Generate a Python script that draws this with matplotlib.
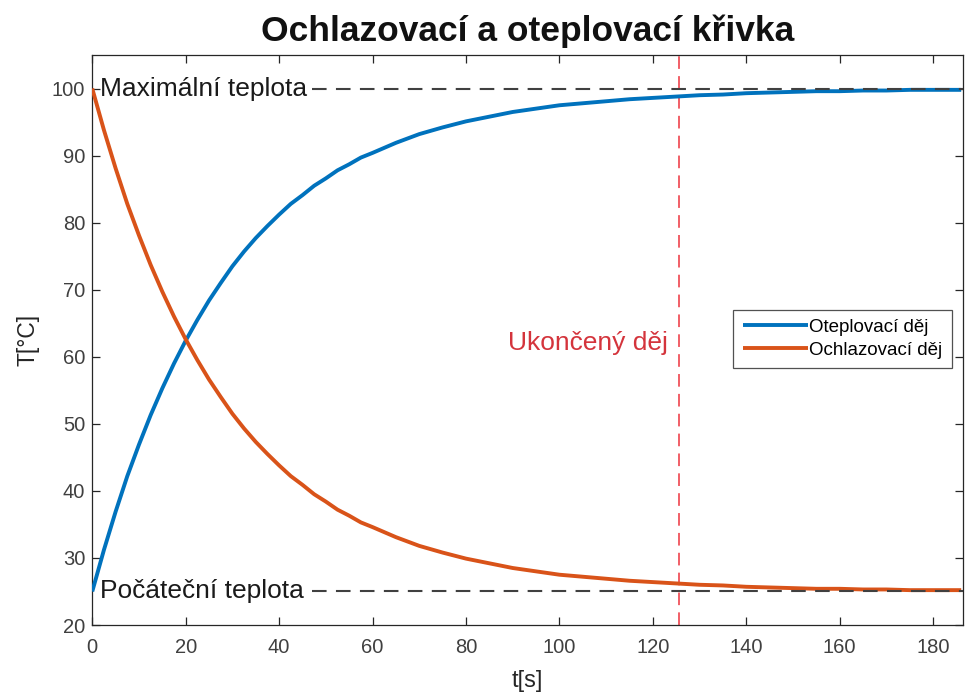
import numpy as np
import matplotlib.pyplot as plt

plt.rcParams['font.family'] = ['Liberation Sans', 'DejaVu Sans']

# time [s] and temperatures [degC]
t = [0, 2.5, 5, 7.5, 10, 12.5, 15, 17.5, 20, 22.5, 25, 27.5, 30, 32.5, 35,
     37.5, 40, 42.5, 45, 47.5, 50, 52.5, 55, 57.5, 60, 65, 70, 75, 80, 85,
     90, 95, 100, 105, 110, 115, 120, 125, 130, 135, 140, 145, 150, 155,
     160, 165, 170, 175, 180, 186]
heating = [25.0, 31.2, 36.9, 42.2, 46.9, 51.3, 55.3, 59.0, 62.4, 65.5, 68.4,
           71.0, 73.5, 75.7, 77.7, 79.5, 81.2, 82.8, 84.1, 85.5, 86.6, 87.8,
           88.7, 89.7, 90.4, 91.9, 93.2, 94.2, 95.1, 95.8, 96.5, 97.0, 97.5,
           97.8, 98.1, 98.4, 98.6, 98.8, 99.0, 99.1, 99.3, 99.4, 99.5, 99.6,
           99.6, 99.7, 99.7, 99.8, 99.8, 99.8]
cooling = [100.0, 93.8, 88.1, 82.8, 78.1, 73.7, 69.7, 66.0, 62.6, 59.5,
           56.6, 54.0, 51.5, 49.3, 47.3, 45.5, 43.8, 42.2, 40.9, 39.5, 38.4,
           37.2, 36.3, 35.3, 34.6, 33.1, 31.8, 30.8, 29.9, 29.2, 28.5, 28.0,
           27.5, 27.2, 26.9, 26.6, 26.4, 26.2, 26.0, 25.9, 25.7, 25.6, 25.5,
           25.4, 25.4, 25.3, 25.3, 25.2, 25.2, 25.2]

t_max_temp = 100
t_start_temp = 25
t_end = 125.5
x_ticks = list(range(0, 181, 20))
y_ticks = list(range(20, 101, 10))

fig = plt.figure(figsize=(9.65, 6.95), dpi=100)
ax = fig.add_axes([0.0956, 0.1007, 0.9024, 0.8202])

ax.plot(t, heating, color='#0072BD', lw=2.8, label='Oteplovací děj',
        solid_capstyle='butt', solid_joinstyle='round', zorder=3)
ax.plot(t, cooling, color='#D95319', lw=2.8, label='Ochlazovací děj',
        solid_capstyle='butt', solid_joinstyle='round', zorder=3)

# reference levels
ax.plot([47, 186.4], [t_max_temp, t_max_temp], color='#404040', lw=1.5,
        dashes=(7, 4.5), zorder=4)
ax.plot([47, 186.4], [t_start_temp, t_start_temp], color='#404040', lw=1.5,
        dashes=(7, 4.5), zorder=4)
ax.text(1.6, t_max_temp, 'Maximální teplota', fontsize=19, va='center',
        ha='left', color='#1a1a1a')
ax.text(1.6, t_start_temp, 'Počáteční teplota', fontsize=19, va='center',
        ha='left', color='#1a1a1a')

ax.axvline(t_end, color='#f0525a', lw=1.3, dashes=(7, 4), zorder=2)
ax.text(123.3, 62.0, 'Ukončený děj', fontsize=19, color='#d4343c',
        ha='right', va='center')

ax.set_xlim(0, 186.4)
ax.set_ylim(20, 105)
ax.set_xticks(x_ticks)
ax.set_yticks(y_ticks)
ax.tick_params(direction='in', top=True, right=True, length=6, width=0.9,
               labelsize=14.5, colors='#262626', labelcolor='#404040')
ax.tick_params(axis='x', pad=9)
ax.tick_params(axis='y', pad=5)
for s in ax.spines.values():
    s.set_color('#262626')
    s.set_linewidth(0.9)

ax.set_xlabel('t[s]', fontsize=17, color='#262626', labelpad=10)
ax.set_ylabel('T[°C]', fontsize=16.5, color='#262626', labelpad=9)
ax.set_title('Ochlazovací a oteplovací křivka', fontsize=25.5,
             fontweight='bold', pad=10, color='#111111')

leg = ax.legend(loc='center right', bbox_to_anchor=(0.987, 0.502),
                fontsize=13.5, frameon=True, fancybox=False,
                handlelength=3.5, handletextpad=0.05, borderpad=0.5,
                labelspacing=0.3, borderaxespad=0)
leg.get_frame().set_edgecolor('#262626')
leg.get_frame().set_linewidth(0.9)

fig.savefig('out.png', dpi=100)
